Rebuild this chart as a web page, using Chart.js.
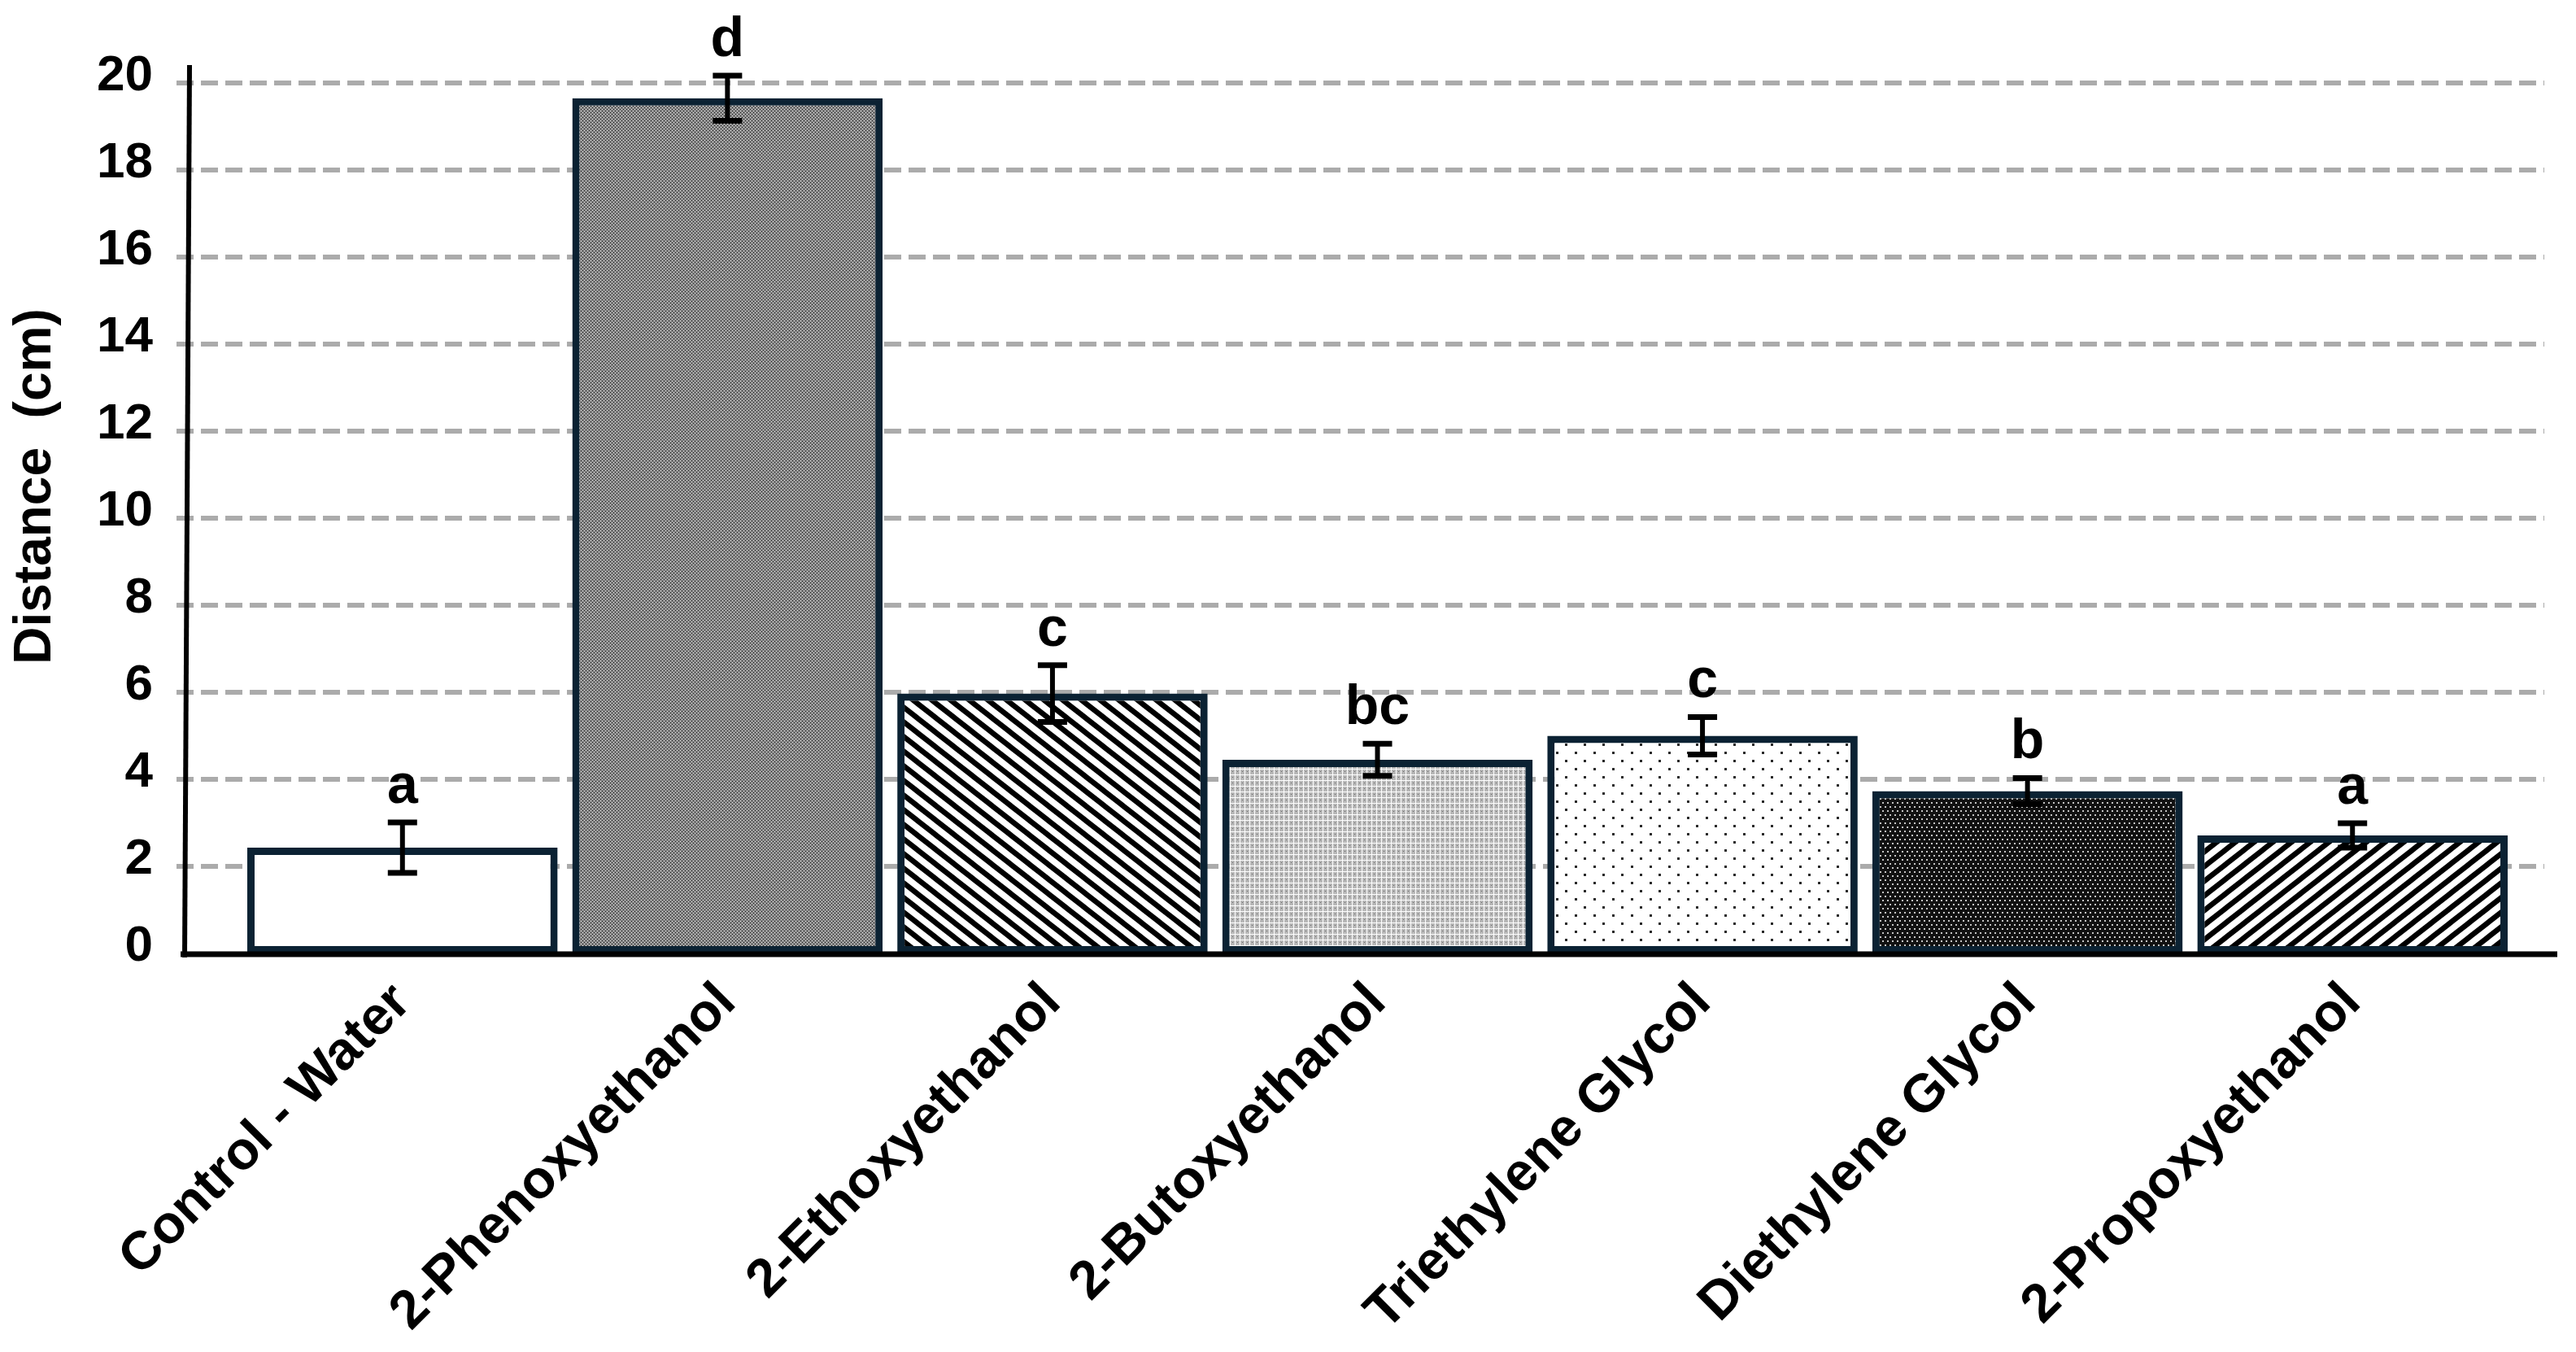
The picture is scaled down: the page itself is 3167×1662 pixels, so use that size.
<!DOCTYPE html>
<html><head><meta charset="utf-8">
<script src="https://cdn.jsdelivr.net/npm/chart.js@4.4.0/dist/chart.umd.min.js"></script>
<style>html,body{margin:0;padding:0;background:#fff;overflow:hidden}canvas{display:block}</style>
</head><body>
<canvas id="c" width="3167" height="1662" style="width:3167px;height:1662px"></canvas>
<script>
// ---- data ----
const categories = ['Control - Water', '2-Phenoxyethanol', '2-Ethoxyethanol', '2-Butoxyethanol', 'Triethylene Glycol', 'Diethylene Glycol', '2-Propoxyethanol'];
const meanDistance = [2.43, 19.65, 5.97, 4.45, 5.00, 3.73, 2.71];
const errorDistance = [0.58, 0.52, 0.65, 0.37, 0.43, 0.30, 0.28];
const groupLetters = ['a', 'd', 'c', 'bc', 'c', 'b', 'a'];
const yTickValues = [0, 2, 4, 6, 8, 10, 12, 14, 16, 18, 20];
const yAxisTitle = 'Distance  (cm)';

const FONT = '"Liberation Sans", Arial, Helvetica, sans-serif';

// ---- fill patterns ----
function tile(w, h, draw) {
  const c = document.createElement('canvas'); c.width = w; c.height = h;
  const g = c.getContext('2d'); draw(g, w, h);
  return g.createPattern(c, 'repeat');
}
function stripes(dir) {
  return tile(23, 18, (g, w, h) => {
    g.fillStyle = '#fff'; g.fillRect(0, 0, w, h);
    g.strokeStyle = '#000'; g.lineWidth = 6.5;
    for (let k = -1; k <= 1; k++) {
      g.beginPath();
      if (dir > 0) { g.moveTo(k * w - w, -h); g.lineTo(k * w + 2 * w, 2 * h); }
      else { g.moveTo(k * w - w, 2 * h); g.lineTo(k * w + 2 * w, -h); }
      g.stroke();
    }
  });
}
const patPhenoxy = tile(4, 4, (g) => {
  g.fillStyle = '#858585'; g.fillRect(0, 0, 4, 4);
  g.fillStyle = '#333333'; g.fillRect(0, 0, 1, 1); g.fillRect(2, 2, 1, 1);
  g.fillStyle = '#d0d0d0'; g.fillRect(2, 0, 1, 1); g.fillRect(0, 2, 1, 1);
});
const patButoxy = tile(6, 7, (g) => {
  g.fillStyle = '#b8b8b8'; g.fillRect(0, 0, 6, 7);
  g.fillStyle = '#ffffff'; g.fillRect(0, 0, 1, 7); g.fillRect(0, 0, 6, 1);
  g.fillStyle = '#606060'; g.fillRect(3, 3, 1, 1);
});
const patTriethylene = tile(23, 20, (g) => {
  g.fillStyle = '#fff'; g.fillRect(0, 0, 23, 20);
  g.fillStyle = '#2a2a2a'; g.fillRect(4, 4, 3, 3); g.fillRect(15, 14, 3, 3);
});
const patDiethylene = tile(6, 10, (g) => {
  g.fillStyle = '#111'; g.fillRect(0, 0, 6, 10);
  g.fillStyle = '#c4c4c4'; g.fillRect(1, 1, 2, 2); g.fillRect(4, 6, 2, 2);
});
const barFills = ['#ffffff', patPhenoxy, stripes(1), patButoxy, patTriethylene, patDiethylene, stripes(-1)];

// ---- decorations: grid, axes, error bars, letters, title ----
const decor = {
  id: 'decor',
  beforeDatasetsDraw(chart) {
    const { ctx, scales: { y } } = chart;
    ctx.save();
    ctx.strokeStyle = '#ababab'; ctx.lineWidth = 6; ctx.setLineDash([21, 9]);
    y.ticks.forEach(t => {
      if (t.value === 0) return;
      const py = Math.round(y.getPixelForValue(t.value));
      ctx.beginPath(); ctx.moveTo(217, py); ctx.lineTo(3128, py); ctx.stroke();
    });
    ctx.restore();
  },
  afterDatasetsDraw(chart) {
    const { ctx, scales: { y } } = chart;
    const meta = chart.getDatasetMeta(0);
    const y0 = y.getPixelForValue(0);
    ctx.save();
    ctx.setLineDash([]);
    ctx.strokeStyle = '#000';
    // x axis line
    ctx.lineWidth = 7;
    ctx.beginPath(); ctx.moveTo(222, y0 + 1); ctx.lineTo(3144, y0 + 1); ctx.stroke();
    // y axis line (slightly slanted as in the original)
    ctx.lineWidth = 6;
    ctx.beginPath(); ctx.moveTo(233, y.getPixelForValue(y.max) - 22); ctx.lineTo(227, y0 + 5); ctx.stroke();
    // error bars and letters
    meta.data.forEach((bar, i) => {
      const v = meanDistance[i], e = errorDistance[i];
      const yt = y.getPixelForValue(v + e), yb = y.getPixelForValue(v - e);
      const cx = bar.x;
      ctx.lineWidth = 6;
      ctx.beginPath(); ctx.moveTo(cx, yt); ctx.lineTo(cx, yb); ctx.stroke();
      ctx.lineWidth = 7;
      ctx.beginPath();
      ctx.moveTo(cx - 18, yt); ctx.lineTo(cx + 18, yt);
      ctx.moveTo(cx - 18, yb); ctx.lineTo(cx + 18, yb);
      ctx.stroke();
      ctx.font = 'bold 68px ' + FONT;
      ctx.textAlign = 'center'; ctx.textBaseline = 'alphabetic'; ctx.fillStyle = '#000';
      ctx.fillText(groupLetters[i], cx, yt - 24);
    });
    ctx.restore();
  },
  afterDraw(chart) {
    const { ctx } = chart;
    ctx.save();
    ctx.translate(44, 598);
    ctx.rotate(-Math.PI / 2);
    ctx.font = 'bold 64px ' + FONT;
    ctx.textAlign = 'center'; ctx.textBaseline = 'middle'; ctx.fillStyle = '#000';
    ctx.fillText(yAxisTitle, 0, 0);
    ctx.restore();
  }
};

const chart = new Chart(document.getElementById('c'), {
  type: 'bar',
  data: {
    labels: categories,
    datasets: [{
      data: meanDistance,
      backgroundColor: barFills,
      borderColor: '#0b2233',
      borderWidth: 9,
      borderSkipped: false,
      barPercentage: 0.955,
      categoryPercentage: 1
    }]
  },
  options: {
    responsive: false,
    animation: false,
    devicePixelRatio: 1,
    layout: { padding: { top: 102, right: 75, left: 0, bottom: 0 } },
    plugins: { legend: { display: false }, tooltip: { enabled: false } },
    scales: {
      x: {
        offset: true,
        grid: { display: false, drawTicks: false },
        border: { display: false },
        ticks: {
          autoSkip: false, minRotation: 45, maxRotation: 45, padding: 22,
          color: '#000', font: { family: FONT, size: 66, weight: 'bold' }
        },
        afterFit(s) { s.height = 490; }
      },
      y: {
        min: 0, max: 20,
        grid: { display: false, drawTicks: false },
        border: { display: false },
        ticks: {
          stepSize: 2, padding: 107, labelOffset: -8,
          color: '#000', font: { family: FONT, size: 62, weight: 'bold' }
        },
        afterBuildTicks(s) { s.ticks = yTickValues.map(v => ({ value: v })); },
        afterFit(s) { s.width = 295; s.paddingTop = 40; s.paddingBottom = 40; }
      }
    }
  },
  plugins: [decor]
});
</script>
</body></html>
